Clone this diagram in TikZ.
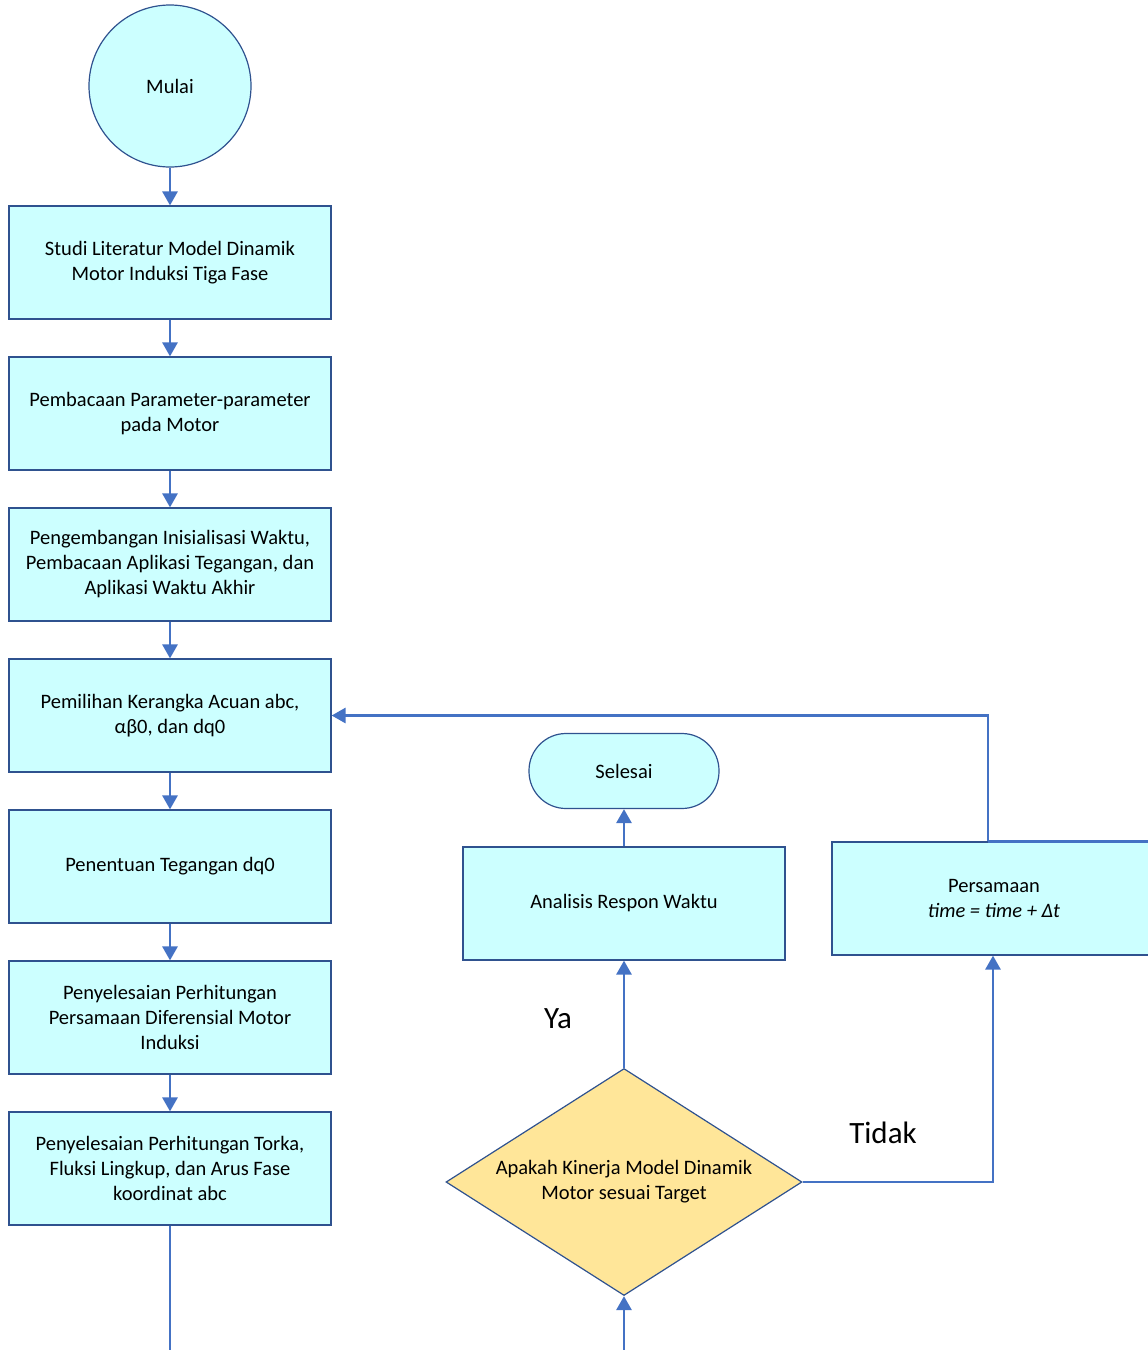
\documentclass[tikz,border=0pt]{standalone}
\usepackage{fontspec}
\setmainfont{Carlito}
\usetikzlibrary{shapes.geometric,arrows.meta,positioning}
\definecolor{boxfill}{HTML}{CCFFFF}
\definecolor{boxline}{HTML}{2F528F}
\definecolor{connc}{HTML}{4472C4}
\definecolor{diafill}{HTML}{FFE699}
\tikzset{
  x=1pt,y=-1pt,
  txt/.style={font=\fontsize{20.5}{25}\selectfont, align=center, text=black},
  stepbox/.style={txt, draw=boxline, fill=boxfill, line width=1.2pt, minimum width=322pt, minimum height=113pt, inner sep=0pt},
  conn/.style={draw=connc, line width=2.8pt, -{Triangle[width=15pt,length=14pt]}},
  plain/.style={draw=connc, line width=2.8pt},
  lbl/.style={font=\fontsize{31}{33}\selectfont, text=black}
}
\begin{document}
\begin{tikzpicture}
\clip (0,0) rectangle (1148,1350);
\useasboundingbox (0,0) rectangle (1148,1350);
% start
\node[txt, circle, draw=boxline, fill=boxfill, line width=1.2pt, minimum size=162pt, inner sep=0pt] (start) at (170,86) {Mulai};
\node[stepbox] (b1) at (170,262.5) {Studi Literatur Model Dinamik\\Motor Induksi Tiga Fase};
\node[stepbox] (b2) at (170,413.5) {Pembacaan Parameter-parameter\\pada Motor};
\node[stepbox] (b3) at (170,564.5) {Pengembangan Inisialisasi Waktu,\\Pembacaan Aplikasi Tegangan, dan\\Aplikasi Waktu Akhir};
\node[stepbox] (b4) at (170,715.5) {Pemilihan Kerangka Acuan abc,\\αβ0, dan dq0};
\node[stepbox] (b5) at (170,866.5) {Penentuan Tegangan dq0};
\node[stepbox] (b6) at (170,1017.5) {Penyelesaian Perhitungan\\Persamaan Diferensial Motor\\Induksi};
\node[stepbox] (b7) at (170,1168.5) {Penyelesaian Perhitungan Torka,\\Fluksi Lingkup, dan Arus Fase\\koordinat abc};
% right side
\node[txt, draw=boxline, fill=boxfill, line width=1.2pt, rounded corners=37pt, minimum width=190pt, minimum height=75pt, inner sep=0pt] (end) at (624,771) {Selesai};
\node[stepbox] (ana) at (624,903.5) {Analisis Respon Waktu};
\node[stepbox, minimum width=324pt] (pers) at (994,898.5) {Persamaan\\\textit{time = time + Δt}};
\node[txt, diamond, draw=boxline, fill=diafill, line width=1.2pt, minimum width=356pt, minimum height=227pt, inner sep=0pt, aspect=1.57] (dia) at (624,1182) {Apakah Kinerja Model Dinamik\\Motor sesuai Target};
\coordinate (bot1) at (170,1360);
\coordinate (bot2) at (624,1360);
% connectors
\draw[conn] (start) -- (b1);
\draw[conn] (b1) -- (b2);
\draw[conn] (b2) -- (b3);
\draw[conn] (b3) -- (b4);
\draw[conn] (b4) -- (b5);
\draw[conn] (b5) -- (b6);
\draw[conn] (b6) -- (b7);
\draw[plain] (b7) -- (bot1);
\draw[conn] (bot2) -- (dia.south);
\draw[conn] (dia.north) -- (ana.south);
\draw[conn] (ana.north) -- (end.south);
\draw[conn] (dia.east) -| ([xshift=-1pt]pers.south);
\draw[conn] ([xshift=-6pt]pers.north) |- (b4.east);
\draw[plain] ([xshift=-6pt]pers.north) -- ([xshift=20pt]pers.north east);
% labels
\node[lbl] (ya) at (558,1019) {Ya};
\node[lbl] (tidak) at (883,1133) {Tidak};
\end{tikzpicture}
\end{document}
